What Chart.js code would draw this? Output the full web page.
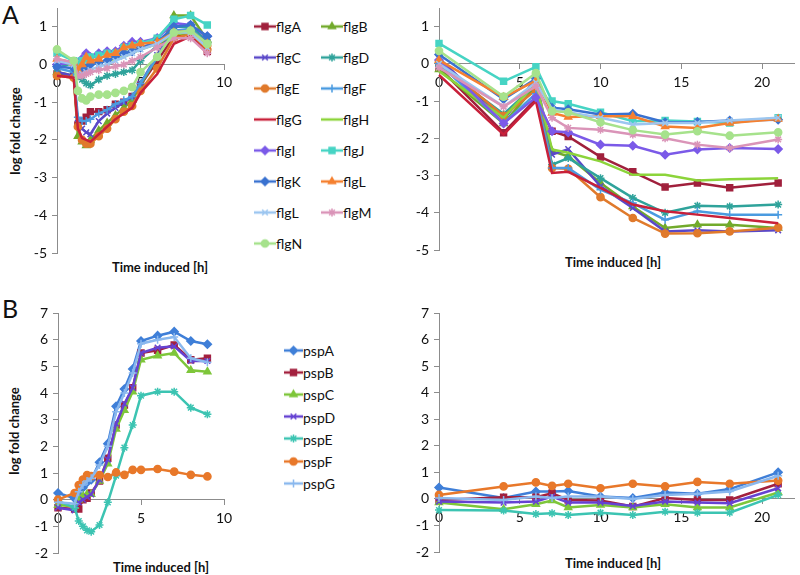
<!DOCTYPE html>
<html><head><meta charset="utf-8">
<script src="https://cdn.jsdelivr.net/npm/chart.js@4.4.1/dist/chart.umd.min.js"></script>
<style>
body{margin:0;background:#fff;width:800px;height:575px;position:relative;overflow:hidden;font-family:Lato,"Open Sans",sans-serif;color:#111}
canvas.cv{position:absolute}
.t{position:absolute;font-weight:bold;font-size:13px;white-space:nowrap;transform:translate(-50%,-50%)}
.yt{transform:translate(-50%,-50%) rotate(-90deg)}
.letter{position:absolute;font-size:25px;line-height:25px}
.leg{position:absolute;font-size:14px;display:flex;align-items:center;white-space:nowrap;transform:translateY(-50%)}
.leg canvas{display:block}
</style></head><body>
<div class="letter" style="left:2px;top:2px">A</div>
<div class="letter" style="left:2px;top:296px">B</div>
<div class="t yt" style="left:15px;top:131px">log fold change</div>
<div class="t yt" style="left:14px;top:431px">log fold change</div>
<div class="t" style="left:160px;top:267px">Time induced [h]</div>
<div class="t" style="left:613px;top:262px">Time induced [h]</div>
<div class="t" style="left:161px;top:567px">Time induced [h]</div>
<div class="t" style="left:613px;top:563px">Time induced [h]</div>
<canvas id="c1" class="cv" width="240" height="285" style="left:0;top:-10px"></canvas>
<canvas id="c2" class="cv" width="420" height="285" style="left:380px;top:-10px"></canvas>
<canvas id="c3" class="cv" width="240" height="285" style="left:0;top:290px"></canvas>
<canvas id="c4" class="cv" width="420" height="285" style="left:380px;top:290px"></canvas>
<div id="legs"></div>
<script>
// ---- time points (hours) ----
const timesEarly = [0, 1, 1.25, 1.5, 1.75, 2, 2.5, 3, 3.5, 4, 4.5, 5, 6, 7, 8, 9];
const timesLate = [0, 4, 6, 7, 8, 10, 12, 14, 16, 18, 21];

// ---- flg genes, early time course (panel A left) ----
const flgNames = ['flgA','flgB','flgC','flgD','flgE','flgF','flgG','flgH','flgI','flgJ','flgK','flgL','flgL','flgM','flgN'];
const flgA_early = [-0.25, -0.3, -1.6, -1.5, -1.4, -1.25, -1.25, -1.2, -1.05, -1.0, -0.85, -0.55, 0.1, 0.75, 0.85, 0.35];
const flgB_early = [-0.2, -0.3, -1.9, -2.05, -2.15, -2.0, -1.75, -1.55, -1.35, -1.15, -0.95, -0.55, 0.2, 1.3, 1.3, 0.65];
const flgC_early = [-0.2, -0.3, -1.55, -1.7, -1.8, -1.85, -1.5, -1.3, -1.15, -1.0, -0.85, -0.5, 0.25, 1.0, 1.05, 0.6];
const flgD_early = [-0.1, 0.05, -0.3, -0.4, -0.5, -0.55, -0.4, -0.3, -0.25, -0.2, -0.15, 0.1, 0.5, 1.0, 1.0, 0.6];
const flgE_early = [-0.3, -0.35, -1.65, -2.0, -2.1, -2.1, -1.9, -1.7, -1.45, -1.25, -1.1, -0.7, -0.1, 0.7, 0.8, 0.4];
const flgF_early = [-0.1, -0.2, -1.4, -1.5, -1.5, -1.45, -1.3, -1.2, -1.05, -0.95, -0.85, -0.5, 0.2, 0.9, 0.95, 0.55];
const flgG_early = [-0.3, -0.35, -1.7, -1.95, -2.0, -2.05, -1.85, -1.65, -1.45, -1.3, -1.15, -0.75, -0.25, 0.55, 0.75, 0.3];
const flgH_early = [0.05, 0.0, -0.15, -0.1, -0.05, 0.05, 0.05, 0.1, 0.15, 0.2, 0.3, 0.4, 0.55, 0.8, 0.85, 0.45];
const flgI_early = [0.0, 0.05, -0.05, 0.15, 0.3, 0.2, 0.3, 0.35, 0.35, 0.5, 0.6, 0.6, 0.7, 1.1, 1.05, 0.75];
const flgJ_early = [0.3, 0.1, 0.0, 0.1, 0.15, 0.2, 0.25, 0.3, 0.3, 0.45, 0.5, 0.55, 0.7, 1.2, 1.3, 1.05];
const flgK_early = [-0.05, -0.1, -0.2, -0.15, -0.1, 0.0, 0.05, 0.1, 0.2, 0.3, 0.35, 0.45, 0.6, 1.0, 1.05, 0.75];
const flgL_early = [0.15, 0.05, -0.15, 0.0, 0.2, 0.1, 0.15, 0.25, 0.3, 0.45, 0.5, 0.55, 0.6, 0.85, 0.9, 0.55];
const flgL2_early = [0.1, 0.0, -0.3, -0.25, -0.2, -0.15, -0.05, 0.0, 0.1, 0.2, 0.3, 0.4, 0.55, 0.85, 0.85, 0.45];
const flgM_early = [0.15, 0.05, -0.3, -0.3, -0.25, -0.2, -0.15, -0.1, -0.05, 0.0, 0.1, 0.2, 0.45, 0.7, 0.7, 0.3];
const flgN_early = [0.4, 0.1, -0.7, -0.9, -0.95, -0.85, -0.8, -0.8, -0.75, -0.7, -0.6, -0.2, 0.2, 0.85, 0.9, 0.55];

// ---- flg genes, late time course (panel A right) ----
const flgA_late = [-0.1, -1.85, -0.95, -1.81, -1.95, -2.5, -2.9, -3.31, -3.2, -3.33, -3.2];
const flgB_late = [-0.15, -1.6, -0.6, -2.35, -2.48, -3.2, -3.83, -4.41, -4.32, -4.32, -4.41];
const flgC_late = [0.15, -1.5, -0.4, -2.44, -2.29, -3.29, -3.87, -4.5, -4.47, -4.5, -4.47];
const flgD_late = [-0.05, -1.35, -0.55, -2.71, -2.53, -3.07, -3.6, -4.0, -3.81, -3.83, -3.78];
const flgE_late = [0.05, -1.4, -0.7, -2.8, -2.82, -3.58, -4.14, -4.56, -4.55, -4.5, -4.4];
const flgF_late = [0.0, -1.6, -0.8, -2.8, -2.8, -3.38, -3.74, -4.19, -3.96, -4.05, -4.05];
const flgG_late = [-0.3, -1.9, -1.0, -2.93, -2.9, -3.33, -3.78, -3.96, -4.05, -4.14, -4.28];
const flgH_late = [-0.2, -1.45, -0.5, -2.3, -2.39, -2.62, -2.98, -2.98, -3.13, -3.1, -3.07];
const flgI_late = [0.1, -1.6, -0.9, -1.81, -1.84, -2.17, -2.2, -2.44, -2.3, -2.26, -2.29];
const flgJ_late = [0.55, -0.47, -0.08, -1.0, -1.07, -1.3, -1.54, -1.52, -1.55, -1.59, -1.45];
const flgK_late = [0.25, -0.95, -0.4, -1.18, -1.22, -1.36, -1.34, -1.57, -1.56, -1.52, -1.5];
const flgL_late = [0.1, -0.9, -0.45, -1.32, -1.43, -1.41, -1.41, -1.68, -1.72, -1.59, -1.48];
const flgL2_late = [0.0, -1.15, -0.5, -1.22, -1.3, -1.45, -1.63, -1.59, -1.59, -1.52, -1.45];
const flgM_late = [-0.1, -1.15, -0.6, -1.45, -1.72, -1.77, -1.9, -2.0, -2.17, -2.26, -2.03];
const flgN_late = [0.35, -0.88, -0.25, -1.27, -1.3, -1.57, -1.78, -1.9, -1.81, -1.93, -1.84];

// ---- psp genes, early (panel B left) ----
const pspNames = ['pspA','pspB','pspC','pspD','pspE','pspF','pspG'];
const pspA_early = [0.25, 0.05, 0.2, 0.45, 0.65, 0.75, 1.4, 2.1, 3.5, 4.15, 4.9, 5.95, 6.15, 6.3, 5.95, 5.83];
const pspB_early = [-0.3, -0.35, -0.35, 0.0, 0.05, 0.25, 0.7, 1.55, 2.8, 3.55, 4.2, 5.5, 5.6, 5.8, 5.25, 5.3];
const pspC_early = [-0.2, -0.25, 0.0, 0.15, 0.2, 0.2, 0.7, 1.35, 2.65, 3.35, 4.05, 5.25, 5.4, 5.5, 4.85, 4.8];
const pspD_early = [-0.3, -0.4, -0.1, 0.0, 0.1, 0.2, 0.75, 1.5, 2.85, 3.6, 4.2, 5.5, 5.7, 5.75, 5.2, 5.2];
const pspE_early = [-0.05, -0.3, -0.8, -1.0, -1.15, -1.2, -0.95, -0.1, 0.9, 1.95, 2.8, 3.9, 4.05, 4.05, 3.45, 3.2];
const pspF_early = [0.0, 0.25, 0.55, 0.75, 0.92, 0.88, 0.92, 0.85, 1.02, 0.93, 1.12, 1.12, 1.15, 1.05, 0.93, 0.87];
const pspG_early = [-0.1, -0.15, 0.3, 0.55, 0.7, 0.8, 1.3, 2.0, 3.3, 4.0, 4.75, 5.85, 6.0, 6.1, 5.3, 5.15];

// ---- psp genes, late (panel B right) ----
const pspA_late = [0.43, 0.03, 0.28, 0.28, 0.3, 0.09, 0.03, 0.24, 0.19, 0.37, 1.0];
const pspB_late = [-0.04, 0.06, 0.06, 0.21, -0.04, -0.06, -0.29, 0.03, -0.04, -0.04, 0.57];
const pspC_late = [-0.14, -0.39, -0.2, -0.06, -0.32, -0.23, -0.32, -0.2, -0.32, -0.32, 0.24];
const pspD_late = [-0.1, -0.14, -0.1, 0.09, -0.14, -0.14, -0.27, -0.1, -0.14, -0.16, 0.4];
const pspE_late = [-0.42, -0.44, -0.57, -0.54, -0.61, -0.52, -0.61, -0.48, -0.52, -0.52, 0.15];
const pspF_late = [0.15, 0.47, 0.62, 0.49, 0.57, 0.4, 0.57, 0.47, 0.64, 0.57, 0.69];
const pspG_late = [0.03, -0.04, 0.09, 0.03, 0.09, 0.09, 0.0, 0.15, 0.19, 0.28, 0.87];

// ---- axis tick settings ----
const xStep = 5, yStep = 1;

// ---- styles ----
const flgStyles = [
  {c:'#a0203c', p:'rect', r:4.2},
  {c:'#72aa2c', p:'triangle', r:4},
  {c:'#5a48c8', p:'crossRot', r:4},
  {c:'#2fa39b', p:'star', r:4},
  {c:'#e07a2c', p:'circle', r:3.6},
  {c:'#4a9be0', p:'cross', r:4},
  {c:'#c8203a', p:null, r:0},
  {c:'#8cd43a', p:null, r:0},
  {c:'#7b5ae8', p:'rectRot', r:4},
  {c:'#46d4c4', p:'rect', r:4.2},
  {c:'#3a72d0', p:'rectRot', r:4},
  {c:'#f58030', p:'triangle', r:4},
  {c:'#9cc6f0', p:'crossRot', r:4},
  {c:'#da94b8', p:'star', r:4},
  {c:'#a6e28c', p:'circle', r:3.6}
];
const pspStyles = [
  {c:'#3f7fd8', p:'rectRot', r:4},
  {c:'#a3203e', p:'rect', r:4.2},
  {c:'#7ec63a', p:'triangle', r:4},
  {c:'#6542d2', p:'crossRot', r:4},
  {c:'#3cc4b2', p:'star', r:4},
  {c:'#e8782a', p:'circle', r:3.6},
  {c:'#8ab8ee', p:'cross', r:4}
];

const flgEarly = [flgA_early,flgB_early,flgC_early,flgD_early,flgE_early,flgF_early,flgG_early,flgH_early,flgI_early,flgJ_early,flgK_early,flgL_early,flgL2_early,flgM_early,flgN_early];
const flgLate = [flgA_late,flgB_late,flgC_late,flgD_late,flgE_late,flgF_late,flgG_late,flgH_late,flgI_late,flgJ_late,flgK_late,flgL_late,flgL2_late,flgM_late,flgN_late];
const pspEarly = [pspA_early,pspB_early,pspC_early,pspD_early,pspE_early,pspF_early,pspG_early];
const pspLate = [pspA_late,pspB_late,pspC_late,pspD_late,pspE_late,pspF_late,pspG_late];

const AXIS = '#8c8c8c';
const FONT = {family:'Lato, "Open Sans", sans-serif', size:14};

function makeChart(id, names, series, times, styles, xMax, yMin, yMax, yWidth, pad) {
  const n = names.length;
  return new Chart(document.getElementById(id), {
    type: 'line',
    data: {
      datasets: names.map((nm, i) => ({
        label: nm,
        data: times.map((t, j) => ({x: t, y: series[i][j]})),
        borderColor: styles[i].c,
        backgroundColor: styles[i].c,
        pointBorderColor: styles[i].c,
        pointBackgroundColor: styles[i].c,
        pointStyle: styles[i].p || 'circle',
        pointRadius: styles[i].p ? styles[i].r : 0,
        pointBorderWidth: 1.5,
        borderWidth: 2.5,
        tension: 0,
        clip: false,
        order: n - i
      }))
    },
    options: {
      responsive: false, animation: false, events: [],
      layout: {padding: pad},
      plugins: {legend: {display: false}, tooltip: {enabled: false}},
      scales: {
        x: {
          type: 'linear', position: {y: 0}, min: 0, max: xMax,
          afterFit: s => { s.height = 0; },
          ticks: {stepSize: xStep, includeBounds: false, color: '#111', font: FONT, padding: 5, maxRotation: 0},
          grid: {display: true, drawOnChartArea: false, drawTicks: true, tickLength: 5, color: AXIS},
          border: {display: true, color: AXIS, width: 1}
        },
        y: {
          type: 'linear', min: yMin, max: yMax,
          afterFit: s => { s.width = yWidth; },
          ticks: {stepSize: yStep, includeBounds: false, color: '#111', font: FONT, padding: 5},
          grid: {display: true, drawOnChartArea: false, drawTicks: true, tickLength: 5, color: AXIS},
          border: {display: true, color: AXIS, width: 1}
        }
      }
    }
  });
}

makeChart('c1', flgNames, flgEarly, timesEarly, flgStyles, 10, -5, 1.5, 57, {left:0, right:16, top:18, bottom:22});
makeChart('c2', flgNames, flgLate, timesLate, flgStyles, 22, -5, 1.5, 59, {left:0, right:2, top:18, bottom:25});
makeChart('c3', pspNames, pspEarly, timesEarly, pspStyles, 10, -2, 7, 58, {left:0, right:16, top:23, bottom:22});
makeChart('c4', pspNames, pspLate, timesLate, pspStyles, 22, -2, 7, 59, {left:0, right:2, top:23, bottom:23});

// ---- legends ----
function addLegend(name, st, x, y, w) {
  const d = document.createElement('div');
  d.className = 'leg';
  d.style.left = x + 'px'; d.style.top = y + 'px';
  const cv = document.createElement('canvas');
  cv.width = w; cv.height = 12;
  const ctx = cv.getContext('2d');
  ctx.strokeStyle = st.c; ctx.fillStyle = st.c; ctx.lineWidth = 2.5;
  ctx.beginPath(); ctx.moveTo(0, 6); ctx.lineTo(w, 6); ctx.stroke();
  if (st.p) {
    ctx.lineWidth = 1.5;
    Chart.helpers.drawPoint(ctx, {pointStyle: st.p, radius: st.r, borderWidth: 1.5, rotation: 0}, w / 2, 6);
  }
  d.appendChild(cv);
  const s = document.createElement('span');
  s.textContent = name;
  d.appendChild(s);
  document.getElementById('legs').appendChild(d);
}
flgNames.forEach((nm, i) => {
  const col = i % 2, row = Math.floor(i / 2);
  addLegend(nm, flgStyles[i], col ? 321 : 254, 26 + row * 31, 22);
});
pspNames.forEach((nm, i) => {
  addLegend(nm, pspStyles[i], 284, 350 + i * 22.2, 19);
});
</script>
</body></html>
